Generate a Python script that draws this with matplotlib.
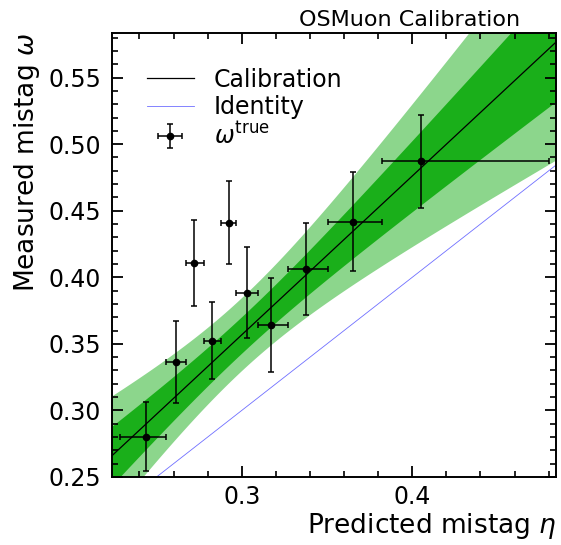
import matplotlib
matplotlib.use("Agg")
import matplotlib.pyplot as plt
import numpy as np
from matplotlib.ticker import MultipleLocator

# binned mistag: mean predicted eta, bin edges, measured omega and its error
eta_mean = [0.2436, 0.2616, 0.2722, 0.2828, 0.2926, 0.3030, 0.3173, 0.3377, 0.3653, 0.4049]
eta_edges = [0.2285, 0.2554, 0.2672, 0.2776, 0.2881, 0.2969, 0.3093, 0.3269, 0.3507, 0.3823, 0.4800]
omega = [0.2803, 0.3365, 0.4108, 0.3523, 0.4411, 0.3885, 0.3641, 0.4063, 0.4419, 0.4871]
omega_err = [0.0261, 0.0309, 0.0323, 0.0290, 0.0310, 0.0342, 0.0355, 0.0346, 0.0370, 0.0347]

# linear calibration omega = p0 + p1 * (eta - eta_avg)
eta_avg = 0.30
p0, p0_err = 0.3568, 0.0137
p1, p1_err = 1.193, 0.23

eta_lo, eta_hi = 0.2239, 0.4843

eta_mean = np.array(eta_mean)
edges = np.array(eta_edges)
xerr = np.vstack([eta_mean - edges[:-1], edges[1:] - eta_mean])

x = np.linspace(eta_lo, eta_hi, 400)
cal = p0 + p1 * (x - eta_avg)
sig = np.sqrt(p0_err**2 + (p1_err * (x - eta_avg))**2)

fig = plt.figure(figsize=(5.61, 5.45), dpi=100)
ax = fig.add_axes([112 / 561, 1 - 477 / 545, 444 / 561, 444 / 545])

ax.fill_between(x, cal - 2 * sig, cal + 2 * sig, color="#8cd68c", lw=0)
ax.fill_between(x, cal - sig, cal + sig, color="#1aaf1a", lw=0)
l_cal, = ax.plot(x, cal, color="black", lw=0.9, label="Calibration")
l_id, = ax.plot(x, x, color="#6f6fff", lw=0.6, label="Identity")
eb = ax.errorbar(eta_mean, omega, xerr=xerr, yerr=omega_err, fmt="o", color="black",
                 ms=4.5, elinewidth=1.1, capsize=2.2, capthick=1.1, label=r"$\omega^\mathrm{true}$")

ax.set_xlim(eta_lo, eta_hi)
ax.set_ylim(0.25, 0.5835)

ax.xaxis.set_major_locator(MultipleLocator(0.1))
ax.xaxis.set_minor_locator(MultipleLocator(0.02))
ax.yaxis.set_major_locator(MultipleLocator(0.05))
ax.yaxis.set_minor_locator(MultipleLocator(0.01))
ax.tick_params(which="both", direction="in", top=True, right=True, labelsize=17)
ax.tick_params(which="major", length=8, width=1.3, pad=8)
ax.tick_params(axis="x", which="major", pad=6)
ax.tick_params(which="minor", length=4.5, width=1.2)
for s in ax.spines.values():
    s.set_linewidth(1.4)

ax.set_xlabel(r"Predicted mistag $\eta$", fontsize=19, loc="right", labelpad=1)
ax.set_ylabel(r"Measured mistag $\omega$", fontsize=19, loc="top")
ax.text(0.919, 1.015, "OSMuon Calibration", transform=ax.transAxes,
        ha="right", va="baseline", fontsize=16)

ax.legend(handles=[l_cal, l_id, eb], loc="upper left", frameon=False, fontsize=17,
          labelspacing=0.15, handletextpad=0.85, bbox_to_anchor=(0.03, 0.97))

fig.savefig("out.png", dpi=100)
